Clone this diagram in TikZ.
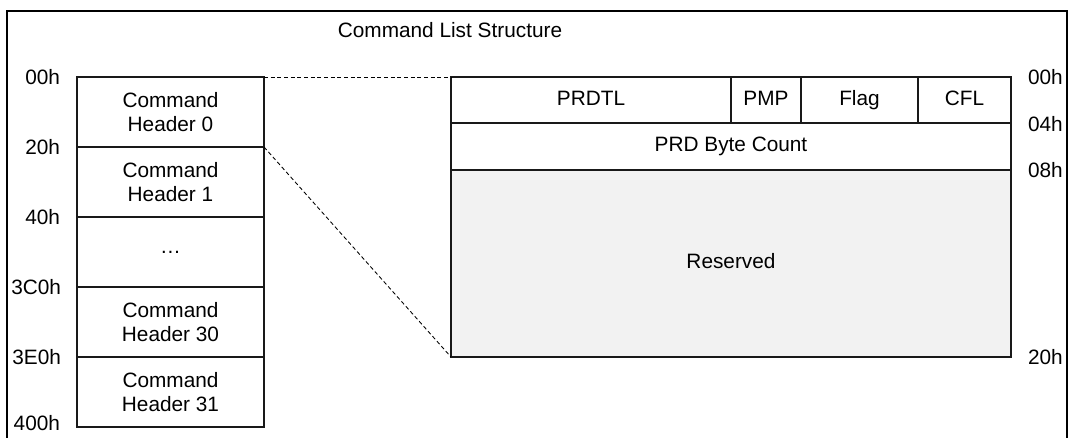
\documentclass[tikz,border=0pt]{standalone}
\usepackage{fontspec}
\setmainfont{Liberation Sans}
\begin{document}
\begin{tikzpicture}[x=0.75pt,y=-0.75pt,
  every node/.style={font=\fontsize{15.6pt}{17.6pt}\selectfont},
  cell/.style={draw=black!90, line width=0.95pt, inner sep=0pt, outer sep=0pt, align=center, anchor=north west},
  oneline/.style={text height=11.2pt, text depth=3.2pt},
  lbl/.style={inner sep=0pt, outer sep=0pt},
  link/.style={line width=0.65pt, dash pattern=on 3pt off 2pt}]
\useasboundingbox (0,0) rectangle (1068,438);
% outer frame
\draw[line width=1.3pt] (7,440) -- (7,11) -- (1067,11) -- (1067,440);
\node[lbl] (title) at (450,30) {Command List Structure};
% left stack
\node[cell, minimum width={187*0.75pt}, minimum height={70*0.75pt}] (h0) at (77,77) {Command\\Header 0};
\node[cell, minimum width={187*0.75pt}, minimum height={70*0.75pt}] (h1) at (77,147) {Command\\Header 1};
\node[cell, minimum width={187*0.75pt}, minimum height={70*0.75pt}] (hd) at (77,217) {\dots};
\node[cell, minimum width={187*0.75pt}, minimum height={70*0.75pt}] (h30) at (77,287) {Command\\Header 30};
\node[cell, minimum width={187*0.75pt}, minimum height={70*0.75pt}] (h31) at (77,357) {Command\\Header 31};
% left labels
\node[lbl, anchor=east] (a00) at (60,77) {00h};
\node[lbl, anchor=east] (a20) at (60,147) {20h};
\node[lbl, anchor=east] (a40) at (60,217) {40h};
\node[lbl, anchor=east] (a3c0) at (61,287) {3C0h};
\node[lbl, anchor=east] (a3e0) at (61,357) {3E0h};
\node[lbl, anchor=east] (a400) at (60,423) {400h};
% right structure
\node[cell, oneline, minimum width={280*0.75pt}, minimum height={46*0.75pt}] (prdtl) at (451,77) {PRDTL};
\node[cell, oneline, minimum width={70*0.75pt}, minimum height={46*0.75pt}] (pmp) at (731,77) {PMP};
\node[cell, oneline, minimum width={117*0.75pt}, minimum height={46*0.75pt}] (flag) at (801,77) {Flag};
\node[cell, oneline, minimum width={93*0.75pt}, minimum height={46*0.75pt}] (cfl) at (918,77) {CFL};
\node[cell, oneline, minimum width={560*0.75pt}, minimum height={47*0.75pt}] (bc) at (451,123) {PRD Byte Count};
\node[cell, oneline, fill=black!5, minimum width={560*0.75pt}, minimum height={187*0.75pt}] (res) at (451,170) {Reserved};
% right labels
\node[lbl, anchor=west] (b00) at (1028,77) {00h};
\node[lbl, anchor=west] (b04) at (1028,124) {04h};
\node[lbl, anchor=west] (b08) at (1028,170) {08h};
\node[lbl, anchor=west] (b20) at (1028,357) {20h};
% connectors
\draw[link] (h0.north east) -- (prdtl.north west);
\draw[link] (h1.north east) -- (res.south west);
\end{tikzpicture}
\end{document}
